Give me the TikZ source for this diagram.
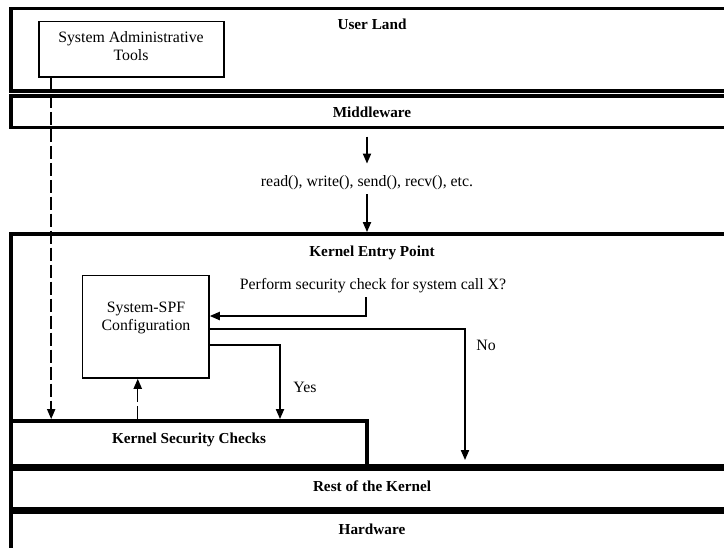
\documentclass[tikz,border=0pt]{standalone}
\usepackage{fontspec}
\setmainfont{Liberation Serif}
\usetikzlibrary{arrows.meta,positioning,calc,fit}

\tikzset{
  layer/.style={draw,line width=3.4pt,inner sep=0pt},
  toolbox/.style={draw,line width=1.4pt,inner sep=0pt},
  lbl/.style={font=\fontsize{13}{15}\selectfont\bfseries,anchor=base,inner sep=0pt},
  txt/.style={font=\fontsize{13.5}{15}\selectfont,align=center},
  arr/.style={-{Triangle[length=8.5pt,width=7pt]},line width=1.2pt},
  dasharr/.style={arr,dash pattern=on 11pt off 3.5pt},
}

\begin{document}
\begin{tikzpicture}[x=0.03cm,y=-0.03cm]
\clip (0,0) rectangle (724,547);
\fill[white] (0,0) rectangle (724,547);
% layers
\node[layer,fit={(11,8.5) (733,91)}] (user) {};
\node[layer,fit={(11,96) (733,127.5)}] (middle) {};
\node[layer,fit={(11,234) (733,466)}] (kernel) {};
\node[layer,fit={(11,421) (367,466)}] (ksc) {};
\node[layer,fit={(11,469) (733,508.5)}] (rest) {};
\node[layer,fit={(11,511.5) (733,560)}] (hw) {};
\node[lbl] (userlbl) at (372,29) {User Land};
\node[lbl] (midlbl) at (372,117) {Middleware};
\node[lbl] (kernlbl) at (372,256) {Kernel Entry Point};
\node[lbl] (ksclbl) at (189,443) {Kernel Security Checks};
\node[lbl] (restlbl) at (372,491) {Rest of the Kernel};
\node[lbl] (hwlbl) at (372,534) {Hardware};

% boxes
\node[toolbox,fit={(39,21.5) (224,77)}] (tools) {};
\node[txt] (toolstxt) at (131,46) {System Administrative\\Tools};
\node[toolbox,fit={(82.5,275.5) (209,378)}] (spf) {};
\node[txt] (spftxt) at (146,318) {System-SPF\\Configuration};

% system calls
\node[txt] (calls) at (367,183) {read(), write(), send(), recv(), etc.};
\draw[arr,shorten <=6pt,shorten >=7pt] (calls.north |- middle.south) -- (calls.north);
\draw[arr] (calls.south) -- (calls.south |- kernel.north);

% security check
\node[txt] (check) at (373,286) {Perform security check for system call X?};
\coordinate (checkturn) at (366,316);
\draw[arr] (check.south -| checkturn) -- (checkturn) -- (checkturn -| spf.east);
\coordinate (noturn) at (465,329);
\draw[arr,shorten >=6pt] (noturn -| spf.east) -- (noturn) -- (noturn |- rest.north);
\node[txt] (nolbl) at (486,345) {No};
\coordinate (yesturn) at (280,345);
\draw[arr] (yesturn -| spf.east) -- (yesturn) -- (yesturn |- ksc.north);
\node[txt] (yeslbl) at (305,387) {Yes};

% admin paths
\coordinate (admx) at ($(tools.south west)+(13,0)$);
\draw[dasharr] (admx) -- (admx |- ksc.north);
\coordinate (cfgx) at ($(spf.south)+(-8,0)$);
\draw[dasharr] (cfgx |- ksc.north) -- (cfgx);
\end{tikzpicture}
\end{document}
